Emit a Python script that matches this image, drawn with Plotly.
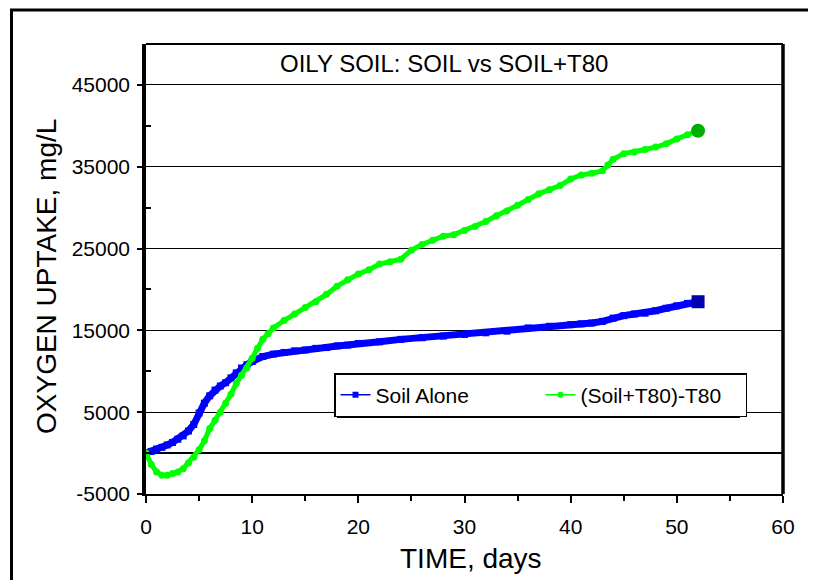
import plotly.graph_objects as go

# values
soil_days = [0, 0.5, 1, 1.5, 2, 2.5, 3, 3.5, 4, 4.5, 5, 5.5, 6, 6.5, 7, 7.5, 8, 8.5, 9, 9.5,
             10, 11, 12, 13, 14, 15, 16, 17, 18, 19, 20, 22, 24, 26, 28, 30, 32, 34, 36, 38,
             40, 41, 42, 43, 44, 45, 46, 47, 48, 49, 50, 51, 52]
soil_o2 = [0, 200, 500, 700, 1000, 1300, 1700, 2100, 2700, 3500, 4900, 6100, 7000, 7700, 8200, 8600, 9200, 9800, 10400, 10800,
           11200, 11800, 12100, 12300, 12500, 12600, 12800, 12900, 13100, 13200, 13400, 13600, 13900, 14100, 14300, 14500, 14700, 14900, 15300, 15500,
           15700, 15800, 15900, 16100, 16500, 16800, 17000, 17100, 17400, 17700, 18000, 18300, 18500]

t80_days = [0, 0.5, 1, 1.5, 2, 2.5, 3, 3.5, 4, 4.5, 5, 5.5, 6, 6.5, 7, 7.5, 8, 8.5, 9, 9.5,
            10, 10.5, 11, 11.5, 12, 13, 14, 15, 16, 17, 18, 19, 20, 21, 22, 23, 24, 25, 26, 27,
            28, 29, 30, 31, 32, 33, 34, 35, 36, 37, 38, 39, 40, 41, 42, 43, 43.5, 44, 45, 46,
            47, 48, 49, 50, 51, 52]
t80_o2 = [0, -1400, -2300, -2700, -2700, -2500, -2300, -1900, -1200, -500, 400, 1500, 3000, 4000, 5000, 6100, 7200, 8500, 9500, 10400,
          11600, 12800, 13900, 14600, 15300, 16200, 17000, 17800, 18500, 19400, 20400, 21200, 21900, 22400, 23100, 23400, 23700, 24800, 25500, 26000,
          26500, 26700, 27200, 27700, 28300, 29000, 29600, 30300, 31000, 31700, 32200, 32700, 33500, 34000, 34200, 34500, 35200, 35900, 36600, 36800,
          37100, 37400, 37800, 38400, 38900, 39400]

y_tickvals = [-5000, 5000, 15000, 25000, 35000, 45000]
y_ticktext = ["-5000", "5000", "15000", "25000", "35000", "45000"]

FONT = "Liberation Sans, Arial, sans-serif"

fig = go.Figure()

# data curves (no legend), drawn thick like the dense markers of the original
fig.add_trace(go.Scatter(x=soil_days, y=soil_o2, mode="lines+markers",
                         line=dict(color="#0000FF", width=7),
                         marker=dict(symbol="square", size=7, color="#0000FF"),
                         showlegend=False))
fig.add_trace(go.Scatter(x=t80_days, y=t80_o2, mode="lines+markers",
                         line=dict(color="#00FF00", width=5),
                         marker=dict(symbol="circle", size=7, color="#00FF00"),
                         showlegend=False))
# last points are shown bigger and darker
fig.add_trace(go.Scatter(x=soil_days[-1:], y=soil_o2[-1:], mode="markers",
                         marker=dict(symbol="square", size=13, color="#0000B0"),
                         showlegend=False))
fig.add_trace(go.Scatter(x=t80_days[-1:], y=t80_o2[-1:], mode="markers",
                         marker=dict(symbol="circle", size=14, color="#00B000"),
                         showlegend=False))

# legend entries only
fig.add_trace(go.Scatter(x=[None], y=[None], mode="lines+markers", name="Soil Alone",
                         line=dict(color="#0000FF", width=1.5),
                         marker=dict(symbol="square", size=6, color="#0000FF")))
fig.add_trace(go.Scatter(x=[None], y=[None], mode="lines+markers", name="(Soil+T80)-T80",
                         line=dict(color="#00FF00", width=1.5),
                         marker=dict(symbol="circle", size=6, color="#00FF00")))

# page has an 8px body margin; figure starts at (8, 8) in the window
OFF = 8
W, H = 816 - 2 * OFF, 580 - OFF
L, T = 146 - OFF, 44 - OFF
R, B = W - (783 - OFF), H - (494 - OFF)
pw, ph = W - L - R, H - T - B

def px_x(p):
    # page pixel -> paper x
    return (p - OFF - L) / pw

def px_y(p):
    # page pixel -> paper y
    return (H - B - (p - OFF)) / ph

shapes = [
    # outer chart frame (left and top edges only are visible)
    dict(type="line", xref="paper", yref="paper",
         x0=px_x(11.5), x1=px_x(11.5), y0=px_y(9), y1=px_y(600),
         line=dict(color="black", width=3)),
    dict(type="line", xref="paper", yref="paper",
         x0=px_x(10), x1=px_x(830), y0=px_y(10), y1=px_y(10),
         line=dict(color="black", width=3)),
    # legend shadow
    dict(type="rect", xref="paper", yref="paper",
         x0=px_x(337), x1=px_x(740), y0=px_y(418), y1=px_y(377),
         fillcolor="black", line=dict(width=0), layer="above"),
    # plot frame top/right
    dict(type="line", xref="paper", yref="paper", x0=0, x1=1, y0=1, y1=1,
         line=dict(color="black", width=2)),
    dict(type="line", xref="paper", yref="paper", x0=1, x1=1, y0=0, y1=1,
         line=dict(color="black", width=3.5)),
]

annotations = [
    dict(text="OILY SOIL: SOIL vs SOIL+T80", xref="paper", yref="paper",
         x=px_x(444), y=px_y(64), xanchor="center", yanchor="middle",
         showarrow=False, font=dict(size=24, family=FONT)),
    dict(text="TIME, days", xref="paper", yref="paper",
         x=px_x(471), y=px_y(558), xanchor="center", yanchor="middle",
         showarrow=False, font=dict(size=28, family=FONT)),
    dict(text="OXYGEN UPTAKE, mg/L", xref="paper", yref="paper", textangle=-90,
         x=px_x(46), y=px_y(277), xanchor="center", yanchor="middle",
         showarrow=False, font=dict(size=28, family=FONT)),
]

fig.update_layout(
    width=W, height=H,
    margin=dict(l=L, r=R, t=T, b=B),
    paper_bgcolor="white", plot_bgcolor="white",
    font=dict(family=FONT, color="black", size=21),
    shapes=shapes,
    annotations=annotations,
    legend=dict(orientation="h", x=px_x(334), y=px_y(373), xanchor="left", yanchor="top",
                bgcolor="white", bordercolor="black", borderwidth=1.5,
                entrywidth=160, font=dict(size=21, family=FONT)),
    xaxis=dict(range=[0, 60], dtick=10, tick0=0, automargin=False,
               showgrid=False, zeroline=False,
               showline=True, linecolor="black", linewidth=2,
               ticks="outside", ticklen=7, tickwidth=1.5, tickcolor="black",
               minor=dict(dtick=5, ticks="outside", ticklen=5, tickcolor="black", tickwidth=1.5),
               tickfont=dict(size=21), ticklabelstandoff=6),
    yaxis=dict(range=[-5000, 50000], tickmode="array", tickvals=y_tickvals, ticktext=y_ticktext,
               automargin=False,
               showgrid=True, gridcolor="black", gridwidth=1,
               zeroline=True, zerolinecolor="black", zerolinewidth=2,
               showline=True, linecolor="black", linewidth=3.5,
               ticks="outside", ticklen=5, tickwidth=1.5, tickcolor="black",
               minor=dict(tickmode="linear", tick0=0, dtick=10000, ticks="inside", ticklen=5,
                          tickcolor="black", tickwidth=1.5, showgrid=False),
               tickfont=dict(size=21), ticklabelstandoff=3),
)

fig.write_html("out.html")
